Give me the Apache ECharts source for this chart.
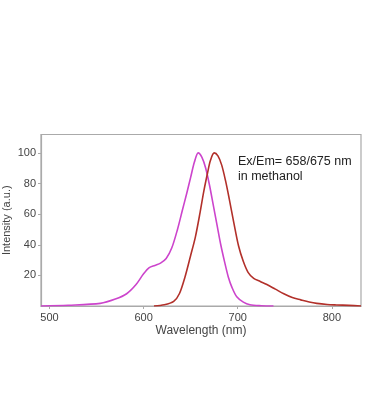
<!DOCTYPE html>
<html><head><meta charset="utf-8">
<script src="https://cdn.jsdelivr.net/npm/echarts@6/dist/echarts.min.js"></script>
<style>html,body{margin:0;padding:0;background:#fff}#c{width:369px;height:420px}</style>
</head><body><div id="c"></div>
<script>
const xTicks = [500, 600, 700, 800];
const yTicks = [20, 40, 60, 80, 100];
const excitation = [[491,0],[520,0.5],[554,1.7],[570,4.5],[582,8],[592,14],[600,21],[606,25],[612,26.5],[618,28],[624,31],[630,38],[636,50],[641,62],[646,74],[650,84],[654,94],[658,100],[662,97],[666,90],[670,79],[674,66],[678,53],[682,40],[686,29],[690,19],[694,12],[699,6],[706,2.5],[713,0.8],[725,0.2],[738,0]];
const emission = [[611,0],[622,0.8],[632,3],[638,8],[644,19],[650,33],[655,45],[660,61],[664,75],[668,87],[671,95],[675,100],[679,98],[683,92],[687,82],[691,70],[696,54],[701,39],[706,29],[711,22],[717,18],[724,16],[731,14],[740,11],[749,8],[758,5.5],[767,4],[776,2.6],[784,1.7],[795,1],[805,0.7],[818,0.4],[831,0]];
const note = ['Ex/Em= 658/675 nm', 'in methanol'];

const chart = echarts.init(document.getElementById('c'), null, {renderer:'canvas'});
const axisColor = '#aaaaaa';
chart.setOption({
  animation:false,
  grid:{left:41,right:8,top:134.5,bottom:114,containLabel:false,outerBoundsMode:'none',show:true,borderColor:axisColor,borderWidth:1.2},
  xAxis:{type:'value',min:491,max:831,
    name:'Wavelength (nm)',nameLocation:'middle',nameGap:19,nameMoveOverlap:false,
    nameTextStyle:{color:'#444',fontSize:12,fontFamily:'Liberation Sans'},
    axisLine:{show:true,lineStyle:{color:axisColor,width:1.2}},
    axisTick:{show:true,length:3,customValues:xTicks,lineStyle:{color:axisColor}},
    axisLabel:{customValues:xTicks,color:'#444',fontSize:11,fontFamily:'Liberation Sans',margin:6},
    splitLine:{show:false}},
  yAxis:{type:'value',min:0,max:112,
    name:'Intensity (a.u.)',nameLocation:'middle',nameGap:29,nameMoveOverlap:false,
    nameTextStyle:{color:'#444',fontSize:11,fontFamily:'Liberation Sans'},
    axisLine:{show:true,lineStyle:{color:axisColor,width:1.2}},
    axisTick:{show:true,length:3,customValues:yTicks,lineStyle:{color:axisColor}},
    axisLabel:{customValues:yTicks,color:'#444',fontSize:11,fontFamily:'Liberation Sans',margin:5},
    splitLine:{show:false}},
  series:[
    {type:'line',data:excitation,smooth:0.3,showSymbol:false,lineStyle:{color:'#cc44cc',width:1.6}},
    {type:'line',data:emission,smooth:0.3,showSymbol:false,lineStyle:{color:'#b2302a',width:1.6}}
  ],
  graphic:[
    {type:'text',left:238,top:155,style:{text:note[0],fill:'#222',font:'12.5px "Liberation Sans"'}},
    {type:'text',left:238,top:170,style:{text:note[1],fill:'#222',font:'12.5px "Liberation Sans"'}}
  ]
});
</script></body></html>
